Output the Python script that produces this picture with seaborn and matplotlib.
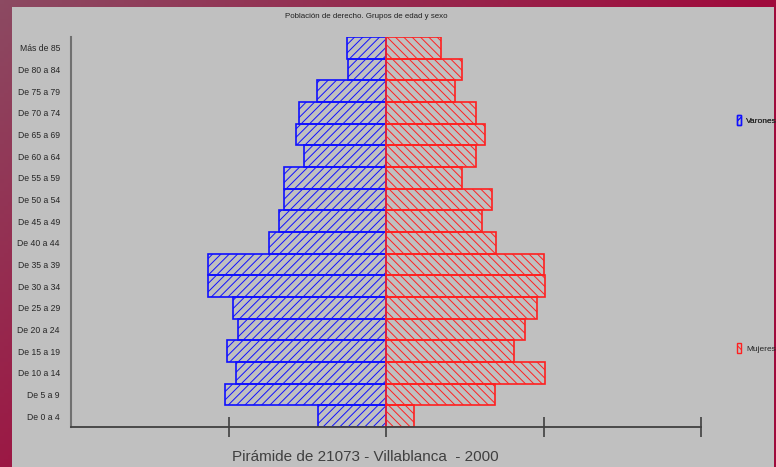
import numpy as np
import matplotlib
matplotlib.use("Agg")
import matplotlib.pyplot as plt
import seaborn as sns
from matplotlib.patches import Patch, Rectangle

# DATA (top to bottom as in the pyramid)
age_groups = ["Más de 85", "De 80 a 84", "De 75 a 79", "De 70 a 74", "De 65 a 69",
              "De 60 a 64", "De 55 a 59", "De 50 a 54", "De 45 a 49", "De 40 a 44",
              "De 35 a 39", "De 30 a 34", "De 25 a 29", "De 20 a 24", "De 15 a 19",
              "De 10 a 14", "De 5 a 9", "De 0 a 4"]
varones = [25, 24, 44, 55, 57, 52, 65, 65, 68, 74, 113, 113, 97, 94, 101, 95, 102, 43]
mujeres = [35, 48, 44, 57, 63, 57, 48, 67, 61, 70, 100, 101, 96, 88, 81, 101, 69, 18]
x_ticks = [-100, 0, 100, 200]

sns.set_theme(style="white")
plt.rcParams['font.family'] = ['Liberation Sans', 'DejaVu Sans']
plt.rcParams['hatch.linewidth'] = 0.7

W, H = 776, 467
fig = plt.figure(figsize=(W / 100, H / 100), dpi=100)

# background gradient + grey panel
bg = fig.add_axes([0, 0, 1, 1], zorder=-10)
gx, gy = np.meshgrid(np.linspace(0, 1, 200), np.linspace(0, 1, 120))
t = np.clip((gx * 1.3 + gy * 1.0) / 1.3, 0, 1)
c0 = np.array([0x8c, 0x4a, 0x62]) / 255
c1 = np.array([0xa0, 0x0a, 0x3c]) / 255
img = c0[None, None, :] * (1 - t[..., None]) + c1[None, None, :] * t[..., None]
bg.imshow(img, aspect='auto', extent=[0, 1, 1, 0])
bg.add_patch(Rectangle((12 / W, 0), 762 / W, 1 - 7 / H, transform=bg.transAxes,
                       facecolor='#c0c0c0', edgecolor='none'))
bg.set_xlim(0, 1)
bg.set_ylim(1, 0)
bg.axis('off')

ax = fig.add_axes([71 / W, 1 - 427 / H, 630 / W, 390 / H])
ax.patch.set_alpha(0)

neg_varones = [-v for v in varones]
sns.barplot(x=neg_varones, y=age_groups, order=age_groups, orient='h', width=1,
            color='#c0c0c0', edgecolor='#1010ff', linewidth=1.2, hatch='////',
            saturation=1, ax=ax)
sns.barplot(x=mujeres, y=age_groups, order=age_groups, orient='h', width=1,
            color='#c0c0c0', edgecolor='#ff2020', linewidth=1.2, hatch='\\\\\\\\',
            saturation=1, ax=ax)
for p in ax.patches:
    p.set_facecolor('none')

ax.set_xlim(-200, 200)
ax.set_ylim(len(age_groups) - 0.5, -0.5)
ax.set_xticks(x_ticks)
ax.set_xticklabels([])
ax.tick_params(axis='x', direction='inout', length=14, width=1.2, color='#404040', bottom=True)
ax.tick_params(axis='y', length=0, labelsize=6.2, pad=8)
ax.set_xlabel("")
ax.set_ylabel("")
for s in ['top', 'right']:
    ax.spines[s].set_visible(False)
ax.spines['left'].set_color('#707070')
ax.spines['left'].set_linewidth(1.5)
ax.spines['bottom'].set_color('#404040')
ax.spines['bottom'].set_linewidth(1.3)

fig.text(366 / W, 1 - 17 / H, "Población de derecho. Grupos de edad y sexo",
         ha='center', va='center', fontsize=5.7, color='#202020')
fig.text(365 / W, 1 - 457 / H, "Pirámide de 21073 - Villablanca  - 2000",
         ha='center', va='center', fontsize=11, color='#404040')

leg1 = fig.legend(handles=[Patch(facecolor='none', edgecolor='#1010ff', hatch='////')],
                  labels=['Varones'], loc='center left',
                  bbox_to_anchor=(733 / W, 1 - 120 / H), frameon=False, fontsize=6,
                  handlelength=0.45, handleheight=1.4, handletextpad=0.6, borderpad=0)
leg2 = fig.legend(handles=[Patch(facecolor='none', edgecolor='#ff2020', hatch='\\\\\\\\')],
                  labels=['Mujeres'], loc='center left',
                  bbox_to_anchor=(733 / W, 1 - 348 / H), frameon=False, fontsize=6,
                  handlelength=0.45, handleheight=1.4, handletextpad=0.6, borderpad=0)
fig.add_artist(leg1)

fig.savefig("out.png", dpi=100)
